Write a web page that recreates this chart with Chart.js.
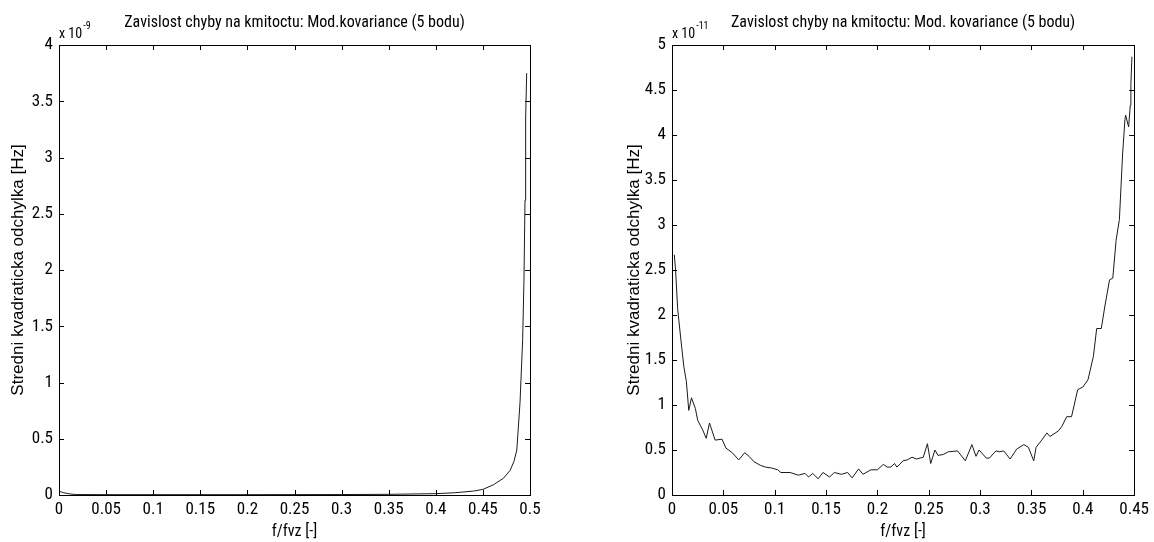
<!DOCTYPE html>
<html>
<head>
<meta charset="utf-8">
<script src="https://cdn.jsdelivr.net/npm/chart.js@4/dist/chart.umd.min.js"></script>
<style>
  html, body { margin: 0; padding: 0; background: #fff; }
  #wrap { position: relative; width: 1154px; height: 542px; }
  .pane { position: absolute; top: 0; width: 577px; height: 542px; }
  #left { left: 0; }
  #right { left: 577px; }
</style>
</head>
<body>
<div id="wrap">
  <div class="pane" id="left"><canvas id="c1"></canvas></div>
  <div class="pane" id="right"><canvas id="c2"></canvas></div>
</div>
<script>
// data (values in units of the axis exponent)
const leftFreq = [0, 0.002, 0.005, 0.01, 0.015, 0.02, 0.05, 0.1, 0.2, 0.3, 0.35, 0.4, 0.42, 0.44, 0.45,
  0.461, 0.472, 0.479, 0.483, 0.486, 0.4894, 0.4922, 0.4936, 0.4947, 0.4954, 0.4965];
const leftErr = [0.035, 0.028, 0.02, 0.012, 0.006, 0.004, 0.003, 0.003, 0.003, 0.004, 0.006, 0.012, 0.02, 0.035, 0.05,
  0.09, 0.15, 0.22, 0.30, 0.40, 0.82, 1.38, 1.91, 2.62, 3.36, 3.75];

const rightFreq = [0.0022, 0.0035, 0.0055, 0.0087, 0.0115, 0.014, 0.0163, 0.019, 0.0228, 0.025, 0.030, 0.0333,
  0.0365, 0.042, 0.0487, 0.0526, 0.0587, 0.065, 0.0708, 0.075, 0.0798, 0.086, 0.091, 0.097, 0.103, 0.106, 0.115,
  0.123, 0.1295, 0.133, 0.137, 0.1423, 0.147, 0.1535, 0.158, 0.165, 0.171, 0.1754, 0.1817, 0.186, 0.1936, 0.200,
  0.2058, 0.2096, 0.213, 0.2167, 0.219, 0.225, 0.229, 0.2337, 0.238, 0.2447, 0.2487, 0.2519, 0.256, 0.259, 0.264,
  0.269, 0.278, 0.2856, 0.292, 0.296, 0.299, 0.306, 0.309, 0.3154, 0.3186, 0.323, 0.3292, 0.3356, 0.3426, 0.347,
  0.3522, 0.3545, 0.360, 0.365, 0.368, 0.376, 0.3795, 0.3843, 0.389, 0.395, 0.400, 0.405, 0.4103, 0.4135, 0.418,
  0.4215, 0.426, 0.4292, 0.4324, 0.4356, 0.4388, 0.441, 0.4417, 0.4446, 0.4462, 0.4468, 0.4478];
const rightErr = [2.67, 2.50, 2.07, 1.72, 1.43, 1.26, 0.94, 1.08, 0.96, 0.83, 0.72, 0.63,
  0.80, 0.61, 0.62, 0.52, 0.47, 0.39, 0.47, 0.43, 0.37, 0.33, 0.31, 0.30, 0.28, 0.25, 0.25,
  0.22, 0.24, 0.20, 0.24, 0.18, 0.25, 0.20, 0.25, 0.23, 0.25, 0.19, 0.29, 0.23, 0.28, 0.28,
  0.34, 0.31, 0.31, 0.35, 0.31, 0.38, 0.39, 0.42, 0.40, 0.42, 0.57, 0.35, 0.50, 0.44, 0.45,
  0.48, 0.49, 0.38, 0.56, 0.43, 0.50, 0.41, 0.41, 0.49, 0.48, 0.49, 0.40, 0.51, 0.56, 0.53,
  0.38, 0.53, 0.61, 0.69, 0.65, 0.71, 0.76, 0.87, 0.87, 1.17, 1.20, 1.28, 1.54, 1.85, 1.85,
  2.10, 2.39, 2.41, 2.83, 3.06, 3.80, 4.17, 4.22, 4.09, 4.33, 4.56, 4.87];

const leftXTicks = [0, 0.05, 0.1, 0.15, 0.2, 0.25, 0.3, 0.35, 0.4, 0.45, 0.5];
const leftXLabels = ['0', '0.05', '0.1', '0.15', '0.2', '0.25', '0.3', '0.35', '0.4', '0.45', '0.5'];
const leftYTicks = [0, 0.5, 1, 1.5, 2, 2.5, 3, 3.5, 4];
const leftYLabels = ['0', '0.5', '1', '1.5', '2', '2.5', '3', '3.5', '4'];

const rightXTicks = [0, 0.05, 0.1, 0.15, 0.2, 0.25, 0.3, 0.35, 0.4, 0.45];
const rightXLabels = ['0', '0.05', '0.1', '0.15', '0.2', '0.25', '0.3', '0.35', '0.4', '0.45'];
const rightYTicks = [0, 0.5, 1, 1.5, 2, 2.5, 3, 3.5, 4, 4.5, 5];
const rightYLabels = ['0', '0.5', '1', '1.5', '2', '2.5', '3', '3.5', '4', '4.5', '5'];

const titles = ['Zavislost chyby na kmitoctu: Mod.kovariance (5 bodu)', 'Zavislost chyby na kmitoctu: Mod. kovariance (5 bodu)'];
const exponents = ['-9', '-11'];
const yTitle = 'Stredni kvadraticka odchylka [Hz]';
const xTitle = 'f/fvz [-]';

// picture is squeezed sideways: narrow font for flat text, normal one for the rotated label
const NARROW = "'Roboto Condensed', 'Liberation Sans', Arial, sans-serif";
const WIDE = "'Liberation Sans', Arial, sans-serif";

// MATLAB-style box with inward ticks, title and exponent
const matlabBox = {
  id: 'matlabBox',
  afterDraw(chart, args, opts) {
    const { ctx, chartArea: a } = chart;
    const xs = chart.scales.x, ys = chart.scales.y;
    ctx.save();
    ctx.strokeStyle = '#000';
    ctx.lineWidth = 1;
    ctx.strokeRect(Math.round(a.left) + 0.5, Math.round(a.top) + 0.5, Math.round(a.right - a.left), Math.round(a.bottom - a.top));
    ctx.beginPath();
    xs.ticks.forEach(t => {
      const px = Math.round(xs.getPixelForValue(t.value)) + 0.5;
      ctx.moveTo(px, a.bottom); ctx.lineTo(px, a.bottom - 5);
      ctx.moveTo(px, a.top); ctx.lineTo(px, a.top + 5);
    });
    ys.ticks.forEach(t => {
      const py = Math.round(ys.getPixelForValue(t.value)) + 0.5;
      ctx.moveTo(a.left, py); ctx.lineTo(a.left + 5, py);
      ctx.moveTo(a.right, py); ctx.lineTo(a.right - 5, py);
    });
    ctx.stroke();

    ctx.fillStyle = '#000';
    ctx.textAlign = 'center';
    ctx.textBaseline = 'alphabetic';
    ctx.font = '16px ' + NARROW;
    ctx.fillText(opts.title, (a.left + a.right) / 2, 27);

    ctx.textAlign = 'left';
    ctx.font = '14px ' + NARROW;
    ctx.fillText('x 10', a.left, 38);
    const w = ctx.measureText('x 10').width;
    ctx.font = '10px ' + NARROW;
    ctx.fillText(opts.exp, a.left + w + 1, 29);
    ctx.restore();
  }
};

function makeChart(id, freq, err, cfg) {
  const pts = freq.map((f, i) => ({ x: f, y: err[i] }));
  return new Chart(document.getElementById(id), {
    type: 'line',
    data: { datasets: [{ data: pts, borderColor: '#1a1a1a', borderWidth: 1, pointRadius: 0, tension: 0, fill: false }] },
    options: {
      responsive: true,
      maintainAspectRatio: false,
      animation: false,
      parsing: false,
      layout: { padding: { top: 45, right: cfg.padRight, left: 0, bottom: 0 } },
      plugins: {
        legend: { display: false },
        tooltip: { enabled: false },
        matlabBox: { title: cfg.title, exp: cfg.exp }
      },
      scales: {
        x: {
          type: 'linear', min: 0, max: cfg.xMax,
          afterBuildTicks: s => { s.ticks = cfg.xTicks.map(v => ({ value: v })); },
          afterFit: s => { s.height = 47; },
          ticks: { color: '#000', font: { family: NARROW, size: 17 }, padding: 5, maxRotation: 0, autoSkip: false,
            callback: (v, i) => cfg.xLabels[i] },
          grid: { display: false, drawTicks: false },
          border: { display: false },
          title: { display: true, text: xTitle, color: '#000', font: { family: NARROW, size: 16 }, padding: { top: 0, bottom: 0 } }
        },
        y: {
          type: 'linear', min: 0, max: cfg.yMax,
          afterBuildTicks: s => { s.ticks = cfg.yTicks.map(v => ({ value: v })); },
          afterFit: s => { s.width = cfg.yWidth; },
          ticks: { color: '#000', font: { family: NARROW, size: 17 }, padding: 6, autoSkip: false,
            callback: (v, i) => cfg.yLabels[i] },
          grid: { display: false, drawTicks: false },
          border: { display: false },
          title: { display: true, text: yTitle, color: '#000', font: { family: WIDE, size: 17 }, padding: { top: cfg.yTitlePad, bottom: 0 } }
        }
      }
    },
    plugins: [matlabBox]
  });
}

makeChart('c1', leftFreq, leftErr, {
  xMax: 0.5, yMax: 4, padRight: 47, yWidth: 59, yTitlePad: 8,
  xTicks: leftXTicks, xLabels: leftXLabels, yTicks: leftYTicks, yLabels: leftYLabels,
  title: titles[0], exp: exponents[0]
});
makeChart('c2', rightFreq, rightErr, {
  xMax: 0.45, yMax: 5, padRight: 15, yWidth: 95, yTitlePad: 47,
  xTicks: rightXTicks, xLabels: rightXLabels, yTicks: rightYTicks, yLabels: rightYLabels,
  title: titles[1], exp: exponents[1]
});
</script>
</body>
</html>
